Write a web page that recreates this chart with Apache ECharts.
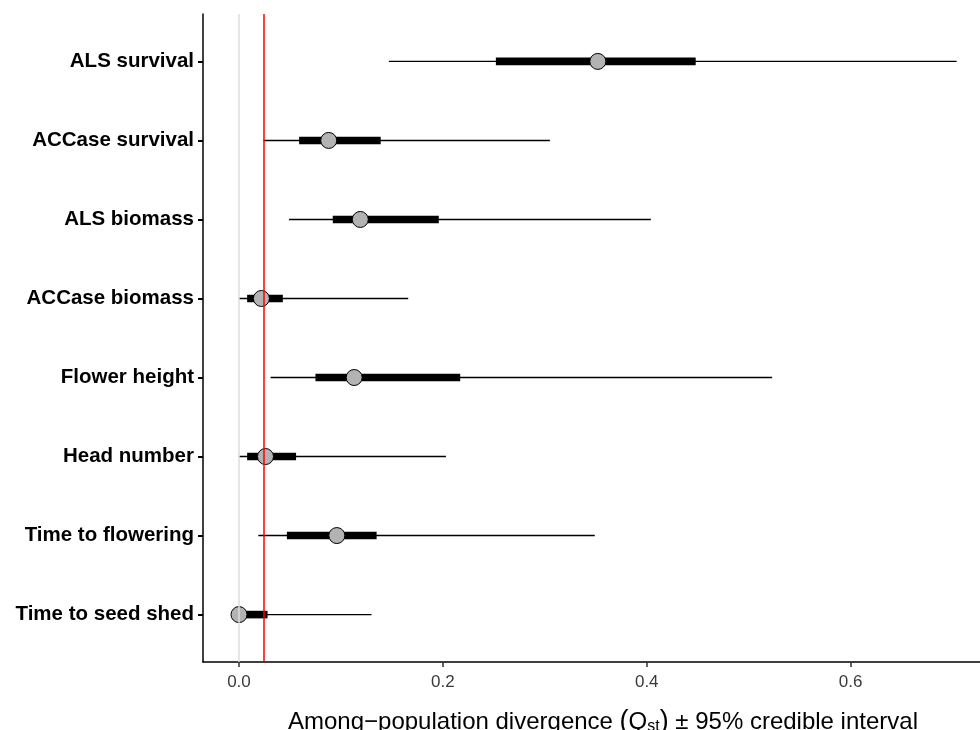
<!DOCTYPE html>
<html>
<head>
<meta charset="utf-8">
<script src="https://cdn.jsdelivr.net/npm/echarts@6/dist/echarts.min.js"></script>
<style>
html,body{margin:0;padding:0;background:#fff;}
#chart{width:980px;height:730px;}
</style>
</head>
<body>
<div id="chart"></div>
<script>
const categories = ['ALS survival','ACCase survival','ALS biomass','ACCase biomass','Flower height','Head number','Time to flowering','Time to seed shed'];
const median = [0.352, 0.088, 0.119, 0.022, 0.113, 0.026, 0.096, 0.000];
const lo95   = [0.147, 0.024, 0.049, 0.000, 0.031, 0.000, 0.019, 0.000];
const hi95   = [0.704, 0.305, 0.404, 0.166, 0.523, 0.203, 0.349, 0.130];
const lo50   = [0.252, 0.059, 0.092, 0.008, 0.075, 0.008, 0.047, 0.000];
const hi50   = [0.448, 0.139, 0.196, 0.043, 0.217, 0.056, 0.135, 0.028];
const xTicks = [0, 0.2, 0.4, 0.6];
const zeroLine = 0;
const refLine = 0.0245;

const FONT = '"Liberation Sans", Arial, sans-serif';
const rows = categories.map((c, i) => [i + 1, lo95[i], hi95[i], lo50[i], hi50[i]]);
const points = categories.map((c, i) => [median[i], i + 1]);

const chart = echarts.init(document.getElementById('chart'), null, {renderer: 'canvas'});
chart.setOption({
  backgroundColor: '#ffffff',
  animation: false,
  title: {
    left: 598, top: 704, textAlign: 'center',
    text: '{m|Among−population divergence }{p|(}{m|Q}{s|st}{p|)}{m| ± 95% credible interval}',
    textStyle: {
      fontWeight: 'normal',
      rich: {
        m: {fontFamily: FONT, fontSize: 24, fontWeight: 'normal', color: '#000', lineHeight: 26},
        p: {fontFamily: FONT, fontSize: 27, fontWeight: 'normal', color: '#000', lineHeight: 26},
        s: {fontFamily: FONT, fontSize: 16, fontWeight: 'normal', color: '#000', lineHeight: 15, verticalAlign: 'bottom'}
      }
    }
  },
  grid: {left: 203, right: 0, top: 14, bottom: 68, containLabel: false},
  xAxis: {
    type: 'value', min: -0.0353, max: 0.7269,
    axisLine: {onZero: false, lineStyle: {color: '#000', width: 1.5}},
    axisTick: {show: true, length: 5, lineStyle: {color: '#333', width: 1.5}, customValues: xTicks},
    axisLabel: {customValues: xTicks, formatter: v => v.toFixed(1), color: '#3A3A3A', fontFamily: FONT, fontSize: 17, margin: 12},
    splitLine: {show: false}
  },
  yAxis: {
    type: 'value', min: 0.4, max: 8.6, inverse: true,
    axisLine: {onZero: false, lineStyle: {color: '#000', width: 1.5}},
    axisTick: {show: true, length: 5, lineStyle: {color: '#000', width: 2}, customValues: [1,2,3,4,5,6,7,8]},
    axisLabel: {customValues: [1,2,3,4,5,6,7,8], formatter: v => categories[Math.round(v) - 1],
      color: '#000', fontFamily: FONT, fontWeight: 'bold', fontSize: 20.5, margin: 9},
    splitLine: {show: false}
  },
  series: [
    {
      type: 'scatter', data: [], silent: true, z: 1,
      markLine: {
        silent: true, precision: 6, symbol: ['none', 'none'], label: {show: false},
        data: [
          {xAxis: zeroLine, lineStyle: {color: '#DCDCDC', width: 1.5, type: 'solid'}},
          {xAxis: refLine, lineStyle: {color: '#FF0000', width: 1.5, type: 'solid'}}
        ]
      }
    },
    {
      type: 'custom', z: 2, silent: true,
      data: rows,
      encode: {x: [1, 2, 3, 4], y: 0},
      renderItem: function (params, api) {
        const y = api.value(0);
        const a = api.coord([api.value(1), y]);
        const b = api.coord([api.value(2), y]);
        const c = api.coord([api.value(3), y]);
        const d = api.coord([api.value(4), y]);
        const h = 7.6;
        return {
          type: 'group',
          children: [
            {type: 'line', shape: {x1: a[0], y1: a[1], x2: b[0], y2: b[1]},
             style: {stroke: '#000', lineWidth: 1.4}},
            {type: 'rect', shape: {x: c[0], y: c[1] - h / 2, width: d[0] - c[0], height: h},
             style: {fill: '#000'}}
          ]
        };
      }
    },
    {
      type: 'scatter', z: 3, silent: true,
      data: points, symbol: 'circle', symbolSize: 16,
      itemStyle: {color: '#B3B3B3', borderColor: '#000', borderWidth: 1, opacity: 1}
    }
  ]
});
</script>
</body>
</html>
